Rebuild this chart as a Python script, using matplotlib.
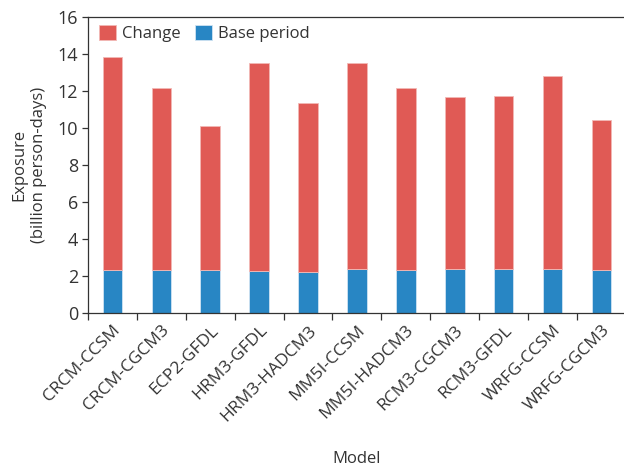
import matplotlib
matplotlib.use("Agg")
import matplotlib.pyplot as plt
import numpy as np

models = ["CRCM-CCSM", "CRCM-CGCM3", "ECP2-GFDL", "HRM3-GFDL", "HRM3-HADCM3",
          "MM5I-CCSM", "MM5I-HADCM3", "RCM3-CGCM3", "RCM3-GFDL", "WRFG-CCSM", "WRFG-CGCM3"]
base = [2.31, 2.32, 2.31, 2.27, 2.22, 2.35, 2.29, 2.35, 2.35, 2.35, 2.32]
total = [13.84, 12.16, 10.07, 13.48, 11.32, 13.51, 12.13, 11.64, 11.73, 12.81, 10.42]
change = [t - b for t, b in zip(total, base)]

plt.rcParams['font.family'] = ['Open Sans', 'DejaVu Sans']
txt = '#333333'
plt.rcParams['text.color'] = txt
plt.rcParams['axes.labelcolor'] = txt
plt.rcParams['xtick.color'] = txt
plt.rcParams['ytick.color'] = txt

fig = plt.figure(figsize=(6.24, 4.68), dpi=100)
ax = fig.add_axes([0.141, 0.332, 0.862, 0.632])

x = np.arange(len(models))
red = '#E05A55'
blue = '#2886C4'
ax.bar(x, base, width=0.4, color=blue, edgecolor='#CFE3F2', linewidth=0.6, label='Base period')
ax.bar(x, change, width=0.4, bottom=base, color=red, edgecolor='#F2B8B5', linewidth=0.6, label='Change')

ax.set_xlim(-0.5, len(models) - 0.5)
ax.set_ylim(0, 16)
ax.set_yticks(np.arange(0, 17, 2))
ax.set_xticks(x)
ax.set_xticklabels(models, rotation=45, ha='right', rotation_mode='anchor', fontsize=12.5)
ax.tick_params(axis='x', which='major', length=0, pad=7)
ax.set_xticks(np.arange(-0.5, len(models) - 0.5, 1.0), minor=True)
ax.tick_params(axis='x', which='minor', length=5, width=0.9, direction='out', color='#333333')
ax.tick_params(axis='y', labelsize=13, length=4, width=0.9, color='#333333', pad=3)

for s in ['left', 'bottom', 'top']:
    ax.spines[s].set_color('#333333')
    ax.spines[s].set_linewidth(0.9)
ax.spines['right'].set_visible(False)

ax.set_ylabel('Exposure\n(billion person-days)', fontsize=12, labelpad=8, linespacing=1.3)
ax.set_xlabel('Model', fontsize=12, labelpad=19)

handles, labels = ax.get_legend_handles_labels()
ax.legend(handles[::-1], labels[::-1], loc='upper left', ncol=2, frameon=False,
          fontsize=12, handlelength=1.0, handleheight=1.0, columnspacing=0.9,
          handletextpad=0.35, borderaxespad=0.1, bbox_to_anchor=(0.005, 1.0))

fig.savefig('out.png', dpi=100)
